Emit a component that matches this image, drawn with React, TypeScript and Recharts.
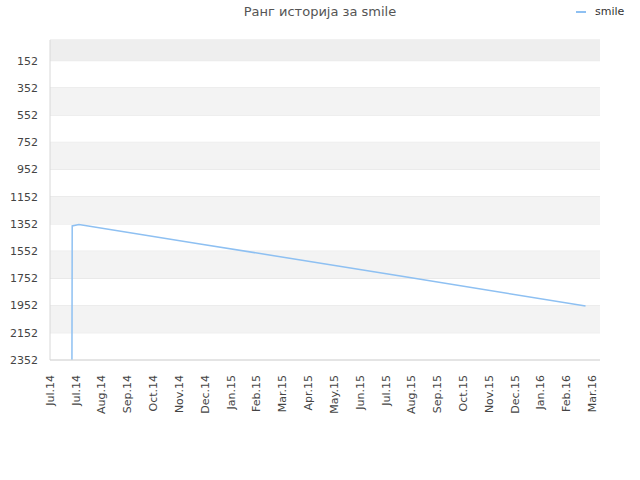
import {
  LineChart,
  Line,
  XAxis,
  YAxis,
  CartesianGrid,
  ReferenceArea,
} from 'recharts';

// Month labels under the x axis (one tick every ~month, first two both "Jul.14")
const monthLabels = [
  'Jul.14', 'Jul.14', 'Aug.14', 'Sep.14', 'Oct.14', 'Nov.14', 'Dec.14',
  'Jan.15', 'Feb.15', 'Mar.15', 'Apr.15', 'May.15', 'Jun.15', 'Jul.15',
  'Aug.15', 'Sep.15', 'Oct.15', 'Nov.15', 'Dec.15', 'Jan.16', 'Feb.16', 'Mar.16',
];

// Position along the month axis (tick index units) and rank at that point
const rankX = [0.85, 0.86, 1.12, 5.81, 13.57, 20.74];
const rankValues = [2352, 1367, 1357, 1499, 1734, 1955];

const yTicks = [152, 352, 552, 752, 952, 1152, 1352, 1552, 1752, 1952, 2152, 2352];
// shaded bands [from, to]
const shadedBands = [
  [352, 552], [752, 952], [1152, 1352], [1552, 1752], [1952, 2152],
];

const seriesName = 'smile';

const chartData = rankX.map((x, i) => ({ x, rank: rankValues[i] }));
const xTicks = monthLabels.map((_, i) => i);

const FONT = '"DejaVu Sans", Verdana, sans-serif';
const LINE_COLOR = '#8ec0f2';

function MonthTick(props: any) {
  const { x, y, payload } = props;
  return (
    <text
      x={x}
      y={y}
      transform={`rotate(-90, ${x}, ${y})`}
      textAnchor="end"
      dy="0.35em"
      fontSize={11}
      fontFamily={FONT}
      fill="#444"
    >
      {monthLabels[payload.value]}
    </text>
  );
}

export default function App() {
  return (
    <div style={{ position: 'absolute', left: 0, top: 0, width: 640, height: 480, background: '#fff' }}>
      <div
        style={{
          position: 'absolute',
          top: 4,
          left: 0,
          width: 640,
          textAlign: 'center',
          fontFamily: FONT,
          fontSize: 13,
          color: '#555',
        }}
      >
        Ранг историја за smile
      </div>
      {/* legend */}
      <div
        style={{
          position: 'absolute',
          top: 5,
          left: 576,
          display: 'flex',
          alignItems: 'center',
          fontFamily: FONT,
          fontSize: 11,
          color: '#333',
        }}
      >
        <span style={{ display: 'inline-block', width: 10, height: 2, background: LINE_COLOR, marginRight: 9 }} />
        <span>{seriesName}</span>
      </div>
      <LineChart
        width={640}
        height={480}
        data={chartData}
        margin={{ top: 40, right: 40, left: 0, bottom: 0 }}
      >
        <ReferenceArea y1={0} y2={152} fill="#eeeeee" fillOpacity={1} stroke="none" />
        {shadedBands.map(([a, b], i) => (
          <ReferenceArea key={`band-${i}`} y1={a} y2={b} fill="#f3f3f3" fillOpacity={1} stroke="none" />
        ))}
        <CartesianGrid vertical={false} stroke="#e2e2e2" />
        <XAxis
          dataKey="x"
          type="number"
          domain={[0, 21.3]}
          ticks={xTicks}
          interval={0}
          tick={<MonthTick />}
          tickLine={false}
          axisLine={{ stroke: '#d8d8d8' }}
          tickMargin={9}
          height={120}
          allowDecimals
        />
        <YAxis
          type="number"
          reversed
          domain={[0, 2352]}
          ticks={yTicks}
          interval={0}
          width={50}
          tickLine={false}
          axisLine={{ stroke: '#d8d8d8' }}
          tickMargin={6}
          tick={{ fontSize: 11, fontFamily: FONT, fill: '#444' }}
        />
        <YAxis
          yAxisId="right"
          orientation="right"
          width={0}
          tick={false}
          tickLine={false}
          axisLine={{ stroke: '#d8d8d8' }}
        />
        <Line
          type="linear"
          dataKey="rank"
          name={seriesName}
          stroke={LINE_COLOR}
          strokeWidth={1.5}
          dot={false}
          isAnimationActive={false}
        />
      </LineChart>
    </div>
  );
}
